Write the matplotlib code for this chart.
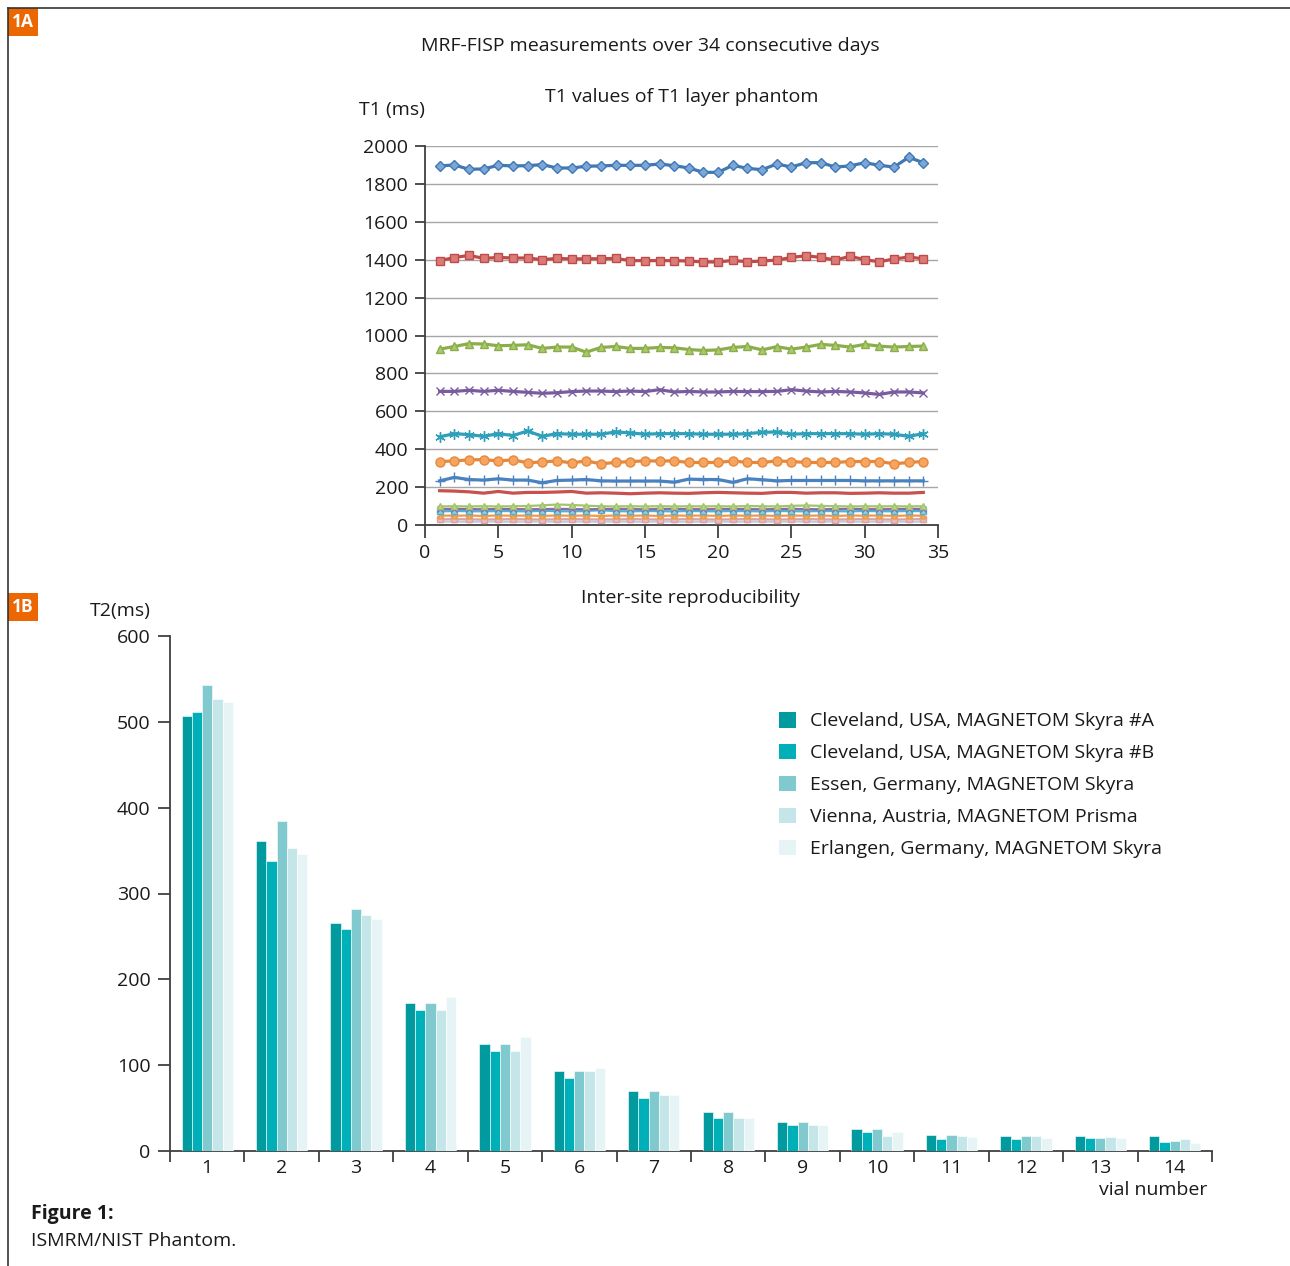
#!/usr/bin/env python3

import matplotlib
matplotlib.use('Agg')
from matplotlib import pyplot as plt
from matplotlib.patches import Rectangle
from matplotlib.lines import Line2D
import numpy as np

plt.rcParams['font.family'] = ['Open Sans', 'DejaVu Sans']

# ---- 1A: T1 values over 34 days, one line per vial ----
days = list(range(1, 35))

t1_vial01 = [1895, 1900, 1877, 1879, 1898, 1895, 1896, 1902, 1884, 1884, 1893, 1895,
             1898, 1898, 1898, 1905, 1896, 1884, 1861, 1861, 1898, 1882, 1875, 1905,
             1889, 1912, 1912, 1889, 1895, 1912, 1898, 1889, 1940, 1912]
t1_vial02 = [1395, 1411, 1423, 1407, 1412, 1409, 1409, 1400, 1407, 1404, 1405, 1405,
             1407, 1395, 1395, 1395, 1395, 1393, 1388, 1388, 1396, 1389, 1393, 1398,
             1412, 1421, 1412, 1398, 1418, 1400, 1389, 1404, 1414, 1405]
t1_vial03 = [928, 942, 957, 955, 946, 948, 951, 932, 939, 939, 912, 937,
             942, 932, 932, 937, 935, 926, 921, 924, 937, 942, 924, 941,
             928, 939, 953, 948, 939, 953, 944, 939, 942, 944]
t1_vial04 = [705, 705, 711, 705, 711, 705, 700, 695, 698, 704, 707, 707,
             704, 707, 704, 714, 702, 705, 702, 702, 705, 704, 704, 705,
             714, 707, 702, 705, 702, 697, 689, 702, 702, 697]
t1_vial05 = [465, 482, 477, 468, 482, 472, 496, 468, 482, 479, 479, 479,
             491, 486, 479, 482, 482, 482, 479, 479, 479, 482, 489, 491,
             479, 482, 482, 482, 482, 479, 482, 479, 468, 482]
t1_vial06 = [335, 338, 344, 345, 338, 344, 328, 333, 338, 328, 338, 323,
             330, 335, 338, 338, 338, 330, 330, 330, 338, 330, 330, 338,
             335, 330, 330, 330, 335, 335, 335, 323, 330, 335]
t1_vial07 = [233, 251, 240, 237, 244, 237, 237, 223, 235, 237, 240, 233,
             232, 232, 232, 232, 226, 242, 240, 240, 225, 244, 239, 233,
             235, 235, 235, 235, 235, 233, 233, 233, 233, 233]
t1_vial08 = [181, 179, 175, 168, 177, 168, 172, 172, 174, 177, 168, 170,
             168, 165, 168, 170, 168, 167, 170, 172, 170, 168, 167, 172,
             172, 168, 170, 170, 167, 168, 170, 168, 168, 172]
t1_vial09 = [98, 99, 98, 99, 98, 99, 100, 104, 108, 106, 102, 99,
             98, 99, 98, 99, 98, 99, 98, 99, 98, 100, 99, 98,
             101, 103, 101, 99, 98, 99, 98, 99, 98, 99]
t1_vial10 = [84, 85, 84, 83, 85, 84, 83, 84, 85, 84, 83, 84,
             85, 84, 83, 84, 85, 84, 83, 84, 85, 84, 83, 84,
             85, 84, 83, 84, 85, 84, 83, 84, 85, 84]
t1_vial11 = [72, 74, 73, 72, 74, 73, 72, 75, 73, 72, 74, 78,
             73, 72, 74, 73, 72, 74, 73, 72, 74, 73, 72, 74,
             73, 72, 74, 73, 72, 74, 73, 72, 74, 73]
t1_vial12 = [50, 49, 50, 48, 50, 49, 50, 48, 50, 49, 50, 48,
             50, 49, 50, 48, 50, 49, 50, 48, 50, 49, 50, 48,
             50, 49, 50, 48, 50, 49, 50, 48, 50, 49]
t1_vial13 = [30, 31, 30, 29, 30, 31, 30, 29, 30, 31, 30, 29,
             30, 31, 30, 29, 30, 31, 30, 29, 30, 31, 30, 29,
             30, 31, 30, 29, 30, 31, 30, 29, 30, 31]
t1_vial14 = [18, 18, 17, 18, 18, 17, 18, 18, 17, 18, 18, 17,
             18, 18, 17, 18, 18, 17, 18, 18, 17, 18, 18, 17,
             18, 18, 17, 18, 18, 17, 18, 18, 17, 18]

# ---- 1B: T2 per vial, five sites ----
vials = list(range(1, 15))
sites = ['Cleveland, USA, MAGNETOM Skyra #A',
         'Cleveland, USA, MAGNETOM Skyra #B',
         'Essen, Germany, MAGNETOM Skyra',
         'Vienna, Austria, MAGNETOM Prisma',
         'Erlangen, Germany, MAGNETOM Skyra']
t2_cleveland_a = [507, 361, 266, 172, 125, 93, 70, 46, 34, 26, 19, 17, 17, 17]
t2_cleveland_b = [511, 338, 259, 164, 117, 85, 62, 38, 30, 22, 14, 14, 15, 11]
t2_essen = [543, 385, 282, 172, 125, 93, 70, 46, 34, 26, 19, 17, 15, 12]
t2_vienna = [527, 353, 275, 164, 117, 93, 65, 38, 30, 18, 18, 17, 16, 14]
t2_erlangen = [523, 346, 270, 180, 133, 97, 65, 38, 30, 22, 16, 15, 15, 9]

TEXT = '#1a1a1a'
AXIS = '#404040'
ORANGE = '#EC6602'
FS = 14


def setup_spines(ax):
    """ left and bottom spines only """
    for side in ['top', 'right']:
        ax.spines[side].set_visible(False)
    for side in ['left', 'bottom']:
        ax.spines[side].set_color(AXIS)
        ax.spines[side].set_linewidth(1.3)
    ax.tick_params(colors=AXIS, labelcolor=TEXT, labelsize=FS, width=1.3)


def plot_t1(fig):
    """ T1 stability lines """
    ax = fig.add_axes([425 / 1290, 1 - 525 / 1266, 513 / 1290, 379 / 1266])
    series = [
        (t1_vial01, '#3F78B3', '#7DA6D8', 'D', 5.2),
        (t1_vial02, '#BE4B48', '#DB7B78', 's', 6),
        (t1_vial03, '#8BAE4A', '#A9C96C', '^', 6),
        (t1_vial04, '#7A5C9E', '#9C86BA', 'x', 5.5),
        (t1_vial05, '#2F9FBA', '#5DBED4', (6, 2, 0), 7.5),
        (t1_vial06, '#E6883C', '#F6A560', 'o', 6.5),
        (t1_vial07, '#4A82C0', '#4A82C0', '+', 6.5),
        (t1_vial08, '#C9504C', '#C9504C', 'None', 0),
        (t1_vial09, '#A3C46A', '#B9D38A', '^', 4),
        (t1_vial10, '#8A6BB0', '#A08AC0', 'x', 4),
        (t1_vial11, '#4FB3CC', '#8ED0E0', 's', 5),
        (t1_vial12, '#F2983F', '#F8B070', '^', 3.5),
        (t1_vial13, '#D9A3A3', '#E6BDBD', 's', 4),
        (t1_vial14, '#C8C8D8', '#DADAE6', '_', 3),
    ]
    for i, (vals, col, face, mk, ms) in enumerate(series):
        lw = 2.3 if i < 8 else 1.6
        ax.plot(days, vals, color=col, lw=lw, marker=mk, ms=ms,
                mfc=face, mec=col, mew=1.0, zorder=3 + (14 - i) * 0.01)
    ax.set_xlim(0, 35)
    ax.set_ylim(0, 2000)
    ax.set_xticks(range(0, 36, 5))
    ax.set_yticks(range(0, 2001, 200))
    ax.yaxis.grid(True, color='#A6A6A6', lw=1.0)
    ax.set_axisbelow(True)
    setup_spines(ax)
    ax.tick_params(axis='x', length=9, pad=5)
    ax.tick_params(axis='y', length=7, pad=5)
    ax.set_title('T1 values of T1 layer phantom', fontsize=FS, color=TEXT, pad=32)
    fig.text(392 / 1290, 1 - 110 / 1266, 'T1 (ms)', fontsize=FS, color=TEXT,
             ha='center', va='center')


def plot_t2(fig):
    """ T2 inter-site bars """
    ax = fig.add_axes([170 / 1290, 1 - 1151 / 1266, 1042 / 1290, 515 / 1266])
    colors = ['#019A9E', '#00B0B9', '#80C9CF', '#C5E6E9', '#E6F4F5']
    data = [t2_cleveland_a, t2_cleveland_b, t2_essen, t2_vienna, t2_erlangen]
    x = np.array(vials)
    w = 0.138
    handles = []
    for k, (vals, col) in enumerate(zip(data, colors)):
        ax.bar(x + (k - 2) * w, vals, width=w, color=col, edgecolor='white',
               linewidth=0.4, zorder=3)
        handles.append(Rectangle((0, 0), 1, 1, facecolor=col, edgecolor='none'))
    ax.set_xlim(0.5, 14.5)
    ax.set_ylim(0, 600)
    ax.set_yticks(range(0, 601, 100))
    ax.set_xticks(np.arange(0.5, 15, 1.0))
    ax.set_xticklabels([])
    ax.set_xticks(x, minor=True)
    ax.set_xticklabels([str(v) for v in vials], minor=True)
    setup_spines(ax)
    ax.tick_params(axis='x', which='major', length=8)
    ax.tick_params(axis='x', which='minor', length=0, pad=6, labelsize=FS,
                   labelcolor=TEXT)
    ax.tick_params(axis='y', length=9, pad=5)
    ax.legend(handles, sites, loc='upper left', bbox_to_anchor=(779 / 1290, 1 - 712 / 1266),
              bbox_transform=fig.transFigure, frameon=False, fontsize=FS,
              handlelength=0.85, handleheight=0.85, handletextpad=0.75,
              labelspacing=0.69, borderpad=0, borderaxespad=0, labelcolor=TEXT)
    fig.text(690 / 1290, 1 - 598 / 1266, 'Inter-site reproducibility', fontsize=FS,
             color=TEXT, ha='center', va='center')
    fig.text(120 / 1290, 1 - 611 / 1266, 'T2(ms)', fontsize=FS, color=TEXT,
             ha='center', va='center')
    fig.text(1207 / 1290, 1 - 1190 / 1266, 'vial number', fontsize=FS, color=TEXT,
             ha='right', va='center')


def decorate(fig):
    """ frame lines, panel tags and caption """
    fig.add_artist(Line2D([8 / 1290, 1], [1 - 8 / 1266] * 2, color='#333333', lw=1.2))
    fig.add_artist(Line2D([8 / 1290] * 2, [0, 1 - 8 / 1266], color='#333333', lw=1.2))
    for tag, top in [('1A', 8), ('1B', 593)]:
        fig.add_artist(Rectangle((8 / 1290, 1 - (top + 28) / 1266), 30 / 1290, 28 / 1266,
                                 facecolor=ORANGE, edgecolor='none'))
        fig.text(23 / 1290, 1 - (top + 14) / 1266, tag, color='white', fontsize=12.5,
                 fontweight='bold', ha='center', va='center')
    fig.text(650 / 1290, 1 - 46 / 1266, 'MRF-FISP measurements over 34 consecutive days',
             fontsize=FS, color=TEXT, ha='center', va='center')
    fig.text(31 / 1290, 1 - 1214 / 1266, 'Figure 1:', fontsize=FS, color=TEXT,
             fontweight='bold', ha='left', va='center')
    fig.text(31 / 1290, 1 - 1241 / 1266, 'ISMRM/NIST Phantom.', fontsize=FS,
             color=TEXT, ha='left', va='center')


def main():
    fig = plt.figure(figsize=(12.9, 12.66), dpi=100)
    plot_t1(fig)
    plot_t2(fig)
    decorate(fig)
    fig.savefig('out.png', dpi=100)


if __name__ == "__main__":
    main()
